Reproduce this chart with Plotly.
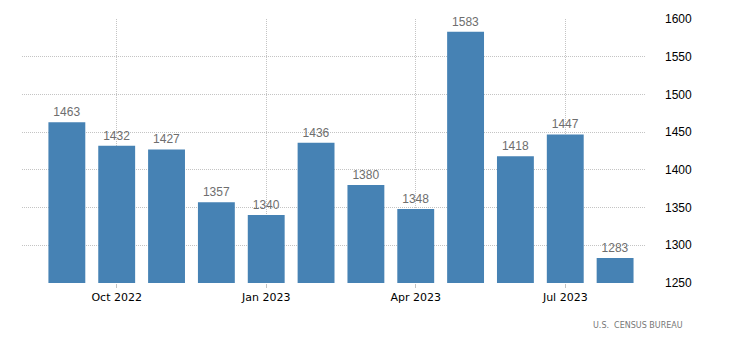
import plotly.graph_objects as go

months = ["Sep 2022", "Oct 2022", "Nov 2022", "Dec 2022", "Jan 2023", "Feb 2023",
          "Mar 2023", "Apr 2023", "May 2023", "Jun 2023", "Jul 2023", "Aug 2023"]
values = [1463, 1432, 1427, 1357, 1340, 1436, 1380, 1348, 1583, 1418, 1447, 1283]
tick_labels = ["Oct 2022", "Jan 2023", "Apr 2023", "Jul 2023"]
y_ticks = [1250, 1300, 1350, 1400, 1450, 1500, 1550, 1600]

fig = go.Figure(go.Bar(
    x=months, y=values,
    marker=dict(color="#4682B4", line=dict(width=0)),
    text=[str(v) for v in values], textposition="outside",
    textfont=dict(family="Liberation Sans, Arial", size=12, color="#6e6e6e"),
    cliponaxis=False,
))

fig.update_layout(
    width=730, height=349,
    margin=dict(l=22, r=85, t=19, b=66),
    plot_bgcolor="white", paper_bgcolor="white",
    bargap=0.26, showlegend=False,
    font=dict(family="DejaVu Sans, Verdana", size=11, color="#000"),
    xaxis=dict(
        type="category", range=[-0.9, 11.6],
        tickmode="array", tickvals=tick_labels, ticktext=tick_labels,
        showgrid=True, gridcolor="#c4c4c4", griddash="1px,1px", gridwidth=1,
        ticks="outside", ticklen=4, tickcolor="#c4c4c4",
        showline=False, zeroline=False,
        tickfont=dict(family="DejaVu Sans, Verdana", size=11, color="#000"),
    ),
    yaxis=dict(
        side="right", range=[1250, 1600],
        tickmode="array", tickvals=y_ticks,
        showgrid=True, gridcolor="#c4c4c4", griddash="1px,1px", gridwidth=1,
        zeroline=False, showline=False, ticks="",
        ticklabelstandoff=19,
        tickfont=dict(family="Liberation Sans, Arial", size=12, color="#000"),
    ),
    annotations=[dict(
        text="U.S.  CENSUS BUREAU", xref="paper", yref="paper",
        x=1.064, y=-0.135, xanchor="right", yanchor="top", showarrow=False,
        font=dict(family="DejaVu Sans, Verdana", size=8, color="#777"),
    )],
)

fig.write_html("out.html")
